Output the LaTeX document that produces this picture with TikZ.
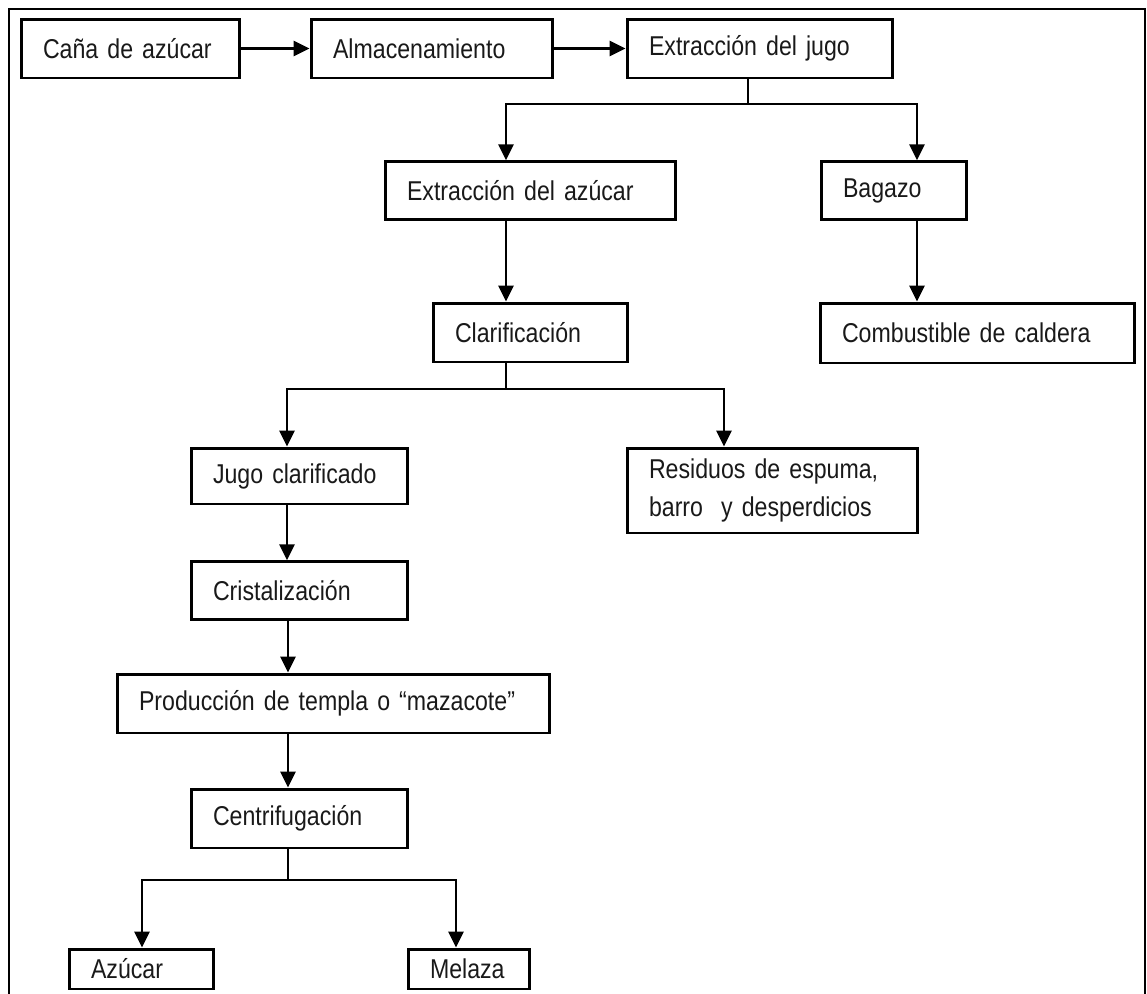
\documentclass[tikz,border=0pt]{standalone}
\usepackage{fontspec}
\setmainfont[FakeStretch=0.85]{Liberation Sans}
\usetikzlibrary{arrows.meta,calc,positioning}

\begin{document}
\begin{tikzpicture}[x=0.02cm, y=-0.02cm]
		\tikzset{stage/.style={draw, line width=1.7pt, inner xsep=0.44cm, inner ysep=0pt, align=left,
				minimum height=1.15cm, font=\fontsize{15.5}{22}\selectfont, text=black!90}}
		\tikzset{flow/.style={line width=1.5pt, -{Triangle[length=0.32cm, width=0.3cm]}}}
		\tikzset{link/.style={line width=1.5pt}}
		\useasboundingbox (0,0) rectangle (1147,994);
		% marco
		\draw [line width=1.6pt] (9,1010) -- (9,9) -- (1145,9) -- (1145,1010);
		% etapas
		\node [stage, text width=3.50cm, minimum height=1.18cm] (cana) at (130.5,48.5) {Caña de azúcar};
		\node [stage, text width=3.96cm, minimum height=1.18cm] (alma) at (432,48.5) {Almacenamiento};
		\node [stage, text width=4.44cm, minimum height=1.18cm] (jugo) at (760,48.5) {Extracción del jugo};
		\node [stage, text width=4.94cm] (extraz) at (530.5,190.5) {Extracción del azúcar};
		\node [stage, text width=2.04cm] (bagazo) at (894,190.5) {Bagazo};
		\node [stage, text width=3.02cm, minimum height=1.18cm] (clar) at (530.5,332.5) {Clarificación};
		\node [stage, text width=5.42cm, minimum height=1.2cm] (comb) at (977.5,333) {Combustible de caldera};
		\node [stage, text width=3.46cm, minimum height=1.12cm] (jclar) at (299.5,476) {Jugo clarificado};
		\node [stage, text width=4.94cm, minimum height=1.7cm] (resid) at (772.5,490.5) {Residuos de espuma,\\barro \ y desperdicios};
		\node [stage, text width=3.46cm] (crist) at (299.5,590.5) {Cristalización};
		\node [stage, text width=7.78cm, minimum height=1.18cm] (prod) at (333.5,703.5) {Producción de templa o “mazacote”};
		\node [stage, text width=3.46cm, minimum height=1.18cm] (centr) at (299.5,818.5) {Centrifugación};
		\node [stage, text width=2.02cm, minimum height=0.8cm] (azucar) at (141.5,969) {Azúcar};
		\node [stage, text width=1.56cm, minimum height=0.8cm] (melaza) at (469,969) {Melaza};
		% bifurcaciones
		\coordinate (j1) at (748,104);
		\coordinate (j2) at (506,104);
		\coordinate (j3) at (917,104);
		\coordinate (c1) at (506,389);
		\coordinate (c2) at (287,389);
		\coordinate (c3) at (724,389);
		\coordinate (f1) at (288,880);
		\coordinate (f2) at (142,880);
		\coordinate (f3) at (456,880);
		% flechas
		\draw [flow] (cana) -- (alma);
		\draw [flow] (alma) -- (jugo);
		\draw [link] (jugo.south -| j1) -- (j1);
		\draw [flow] (j1) -- (j2) -- (j2 |- extraz.north);
		\draw [flow] (j1) -- (j3) -- (j3 |- bagazo.north);
		\draw [flow] (j3 |- bagazo.south) -- (j3 |- comb.north);
		\draw [flow] (j2 |- extraz.south) -- (j2 |- clar.north);
		\draw [link] (c1 |- clar.south) -- (c1);
		\draw [flow] (c1) -- (c2) -- (c2 |- jclar.north);
		\draw [flow] (c1) -- (c3) -- (c3 |- resid.north);
		\draw [flow] (c2 |- jclar.south) -- (c2 |- crist.north);
		\draw [flow] (f1 |- crist.south) -- (f1 |- prod.north);
		\draw [flow] (f1 |- prod.south) -- (f1 |- centr.north);
		\draw [link] (f1 |- centr.south) -- (f1);
		\draw [flow] (f1) -- (f2) -- (f2 |- azucar.north);
		\draw [flow] (f1) -- (f3) -- (f3 |- melaza.north);
	\end{tikzpicture}
\end{document}
